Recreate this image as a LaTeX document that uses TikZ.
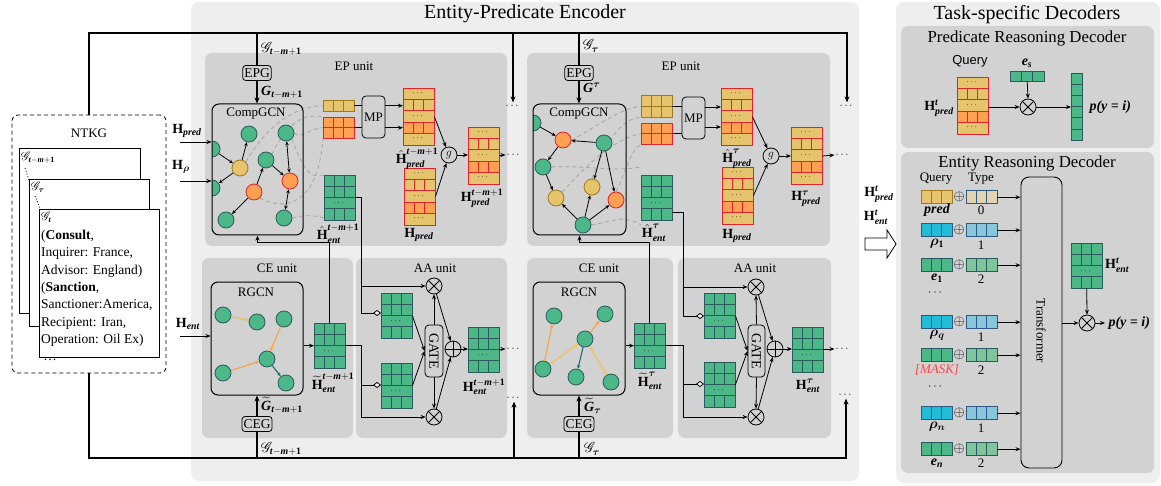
\documentclass[tikz,border=0pt]{standalone}
\usepackage{amsmath}
\usepackage{bm}
\usepackage{mathrsfs}
\usepackage{fontspec}
\setmainfont{Liberation Serif}
\newfontfamily\sansf{Liberation Sans}
\usetikzlibrary{arrows.meta,calc}

\definecolor{encbg}{HTML}{EEEEEE}
\definecolor{unitbg}{HTML}{D2D2D2}
\definecolor{gfill}{HTML}{4DB887}
\definecolor{gborder}{HTML}{2B5A5E}
\definecolor{yfill}{HTML}{E5C46D}
\definecolor{yborder}{HTML}{9E7A1A}
\definecolor{ofill}{HTML}{FFA052}
\definecolor{rborder}{HTML}{E0242C}
\definecolor{cfill}{HTML}{22BCD8}
\definecolor{bborder}{HTML}{2D5A85}
\definecolor{lbfill}{HTML}{88C6DB}
\definecolor{lgfill}{HTML}{7EC59C}
\definecolor{tanfill}{HTML}{E3D3AE}
\definecolor{dashgray}{HTML}{A9A9A9}
\definecolor{yedge}{HTML}{F2C14E}
\definecolor{oedge}{HTML}{FFA040}
\definecolor{tedge}{HTML}{1E6B6E}
\definecolor{maskred}{HTML}{FF4545}

\newcommand{\bi}[1]{\textbf{\textit{#1}}}
\newcommand{\tmo}{\bi{t}-\bi{m}+\textbf{1}}
\newcommand{\Hb}{\textbf{H}}

\pgfdeclarelayer{panels}
\pgfdeclarelayer{dashes}
\pgfsetlayers{panels,dashes,main}

\tikzset{
  ln/.style={line width=0.8pt},
  arr/.style={line width=0.8pt,-{Stealth[length=5pt,width=4pt]}},
  sarr/.style={line width=0.8pt,-{Stealth[length=4pt,width=3.5pt]}},
  sdarr/.style={line width=0.8pt,{Stealth[length=4pt,width=3.5pt]}-{Stealth[length=4pt,width=3.5pt]}},
  bus/.style={line width=1.5pt},
  busarr/.style={line width=1.5pt,-{Stealth[length=6pt,width=5pt]}},
  dia/.style={line width=0.8pt,-{Diamond[fill=white,length=8pt,width=6pt]}},
  dsh/.style={draw=dashgray,line width=0.9pt,dash pattern=on 4pt off 3pt},
  gnode/.style={circle,draw=gborder,fill=gfill,line width=0.8pt,minimum size=16pt,inner sep=0pt},
  ynode/.style={gnode,draw=yborder,fill=yfill},
  onode/.style={gnode,draw=rborder,fill=ofill},
  gbox/.style={draw,rounded corners=7pt,line width=1pt,inner sep=0pt},
  sbox/.style={draw,rounded corners=3pt,line width=0.8pt,inner xsep=1.5pt,inner ysep=0pt,minimum height=15pt,fill=unitbg,font=\fontsize{13.5}{14}\selectfont},
  otimes/.style={circle,draw,line width=0.8pt,minimum size=16pt,inner sep=0pt},
  lab/.style={font=\fontsize{14}{16}\selectfont,inner sep=1pt},
  dotn/.style={inner sep=1pt,font=\fontsize{11}{12}\selectfont},
  yarr/.style={draw=yedge,line width=1.1pt,-{Stealth[length=4pt,width=3.5pt]}},
  ydarr/.style={draw=yedge,line width=1.1pt,{Stealth[length=4pt,width=3.5pt]}-{Stealth[length=4pt,width=3.5pt]}},
  oarr/.style={draw=oedge,line width=1.1pt,-{Stealth[length=4pt,width=3.5pt]}},
  tarr/.style={draw=tedge,line width=1.1pt,-{Stealth[length=4pt,width=3.5pt]}},
}

% generic grid: name, x, y, cols, rows, cellw, cellh, fill, border
\newcommand{\CGrid}[9]{%
  \begin{scope}[shift={(#2,#3)}]
    \foreach \ci in {1,...,#4}{\foreach \cj in {1,...,#5}{%
      \filldraw[fill=#8,draw=#9,line width=0.9pt] ({(\ci-1)*#6},{(\cj-1)*#7}) rectangle ++(#6,#7);}}
    \node[inner sep=0pt,minimum width={(#4)*(#6)*1pt},minimum height={(#5)*(#7)*1pt},anchor=north west] (#1) at (0,0) {};
  \end{scope}}
% entity grid 31x45
\newcommand{\EGrid}[3]{%
  \begin{scope}[shift={(#2,#3)}]
    \fill[gfill] (0,0) rectangle (31,45);
    \draw[gborder,line width=0.9pt] (0,0) rectangle (31,45) (0,11.25)--(31,11.25) (0,22.5)--(31,22.5) (0,33.75)--(31,33.75)
      (10.33,0)--(10.33,22.5) (20.67,0)--(20.67,22.5) (10.33,33.75)--(10.33,45) (20.67,33.75)--(20.67,45);
    \node[dotn,font=\fontsize{9}{9}\selectfont] (#1dots) at (15.5,28.1) {$\cdots$};
    \node[inner sep=0pt,minimum width=31pt,minimum height=45pt,anchor=north west] (#1) at (0,0) {};
  \end{scope}}
% predicate stack 31x57
\newcommand{\PStack}[3]{%
  \begin{scope}[shift={(#2,#3)}]
    \fill[yfill] (0,0) rectangle (31,57);
    \fill[ofill] (0,34.2) rectangle (31,45.6);
    \draw[rborder,line width=0.9pt] (0,0) rectangle (31,57) (0,11.4)--(31,11.4) (0,22.8)--(31,22.8) (0,34.2)--(31,34.2) (0,45.6)--(31,45.6)
      (10.33,11.4)--(10.33,22.8) (20.67,11.4)--(20.67,22.8) (10.33,34.2)--(10.33,45.6) (20.67,34.2)--(20.67,45.6);
    \node[dotn,font=\fontsize{9}{9}\selectfont] (#1da) at (15.5,5.2) {$\cdots$};
    \node[dotn,font=\fontsize{9}{9}\selectfont] (#1db) at (15.5,28) {$\cdots$};
    \node[dotn,font=\fontsize{9}{9}\selectfont] (#1dc) at (15.5,50.8) {$\cdots$};
    \node[inner sep=0pt,minimum width=31pt,minimum height=57pt,anchor=north west] (#1) at (0,0) {};
  \end{scope}}
\newcommand{\Otimes}[2]{\node[otimes] (#1) at (#2) {};
  \draw[line width=0.8pt] (#1.north west)--(#1.south east) (#1.north east)--(#1.south west);}
\newcommand{\Oplus}[2]{\node[otimes] (#1) at (#2) {};
  \draw[line width=0.8pt] (#1.north)--(#1.south) (#1.east)--(#1.west);}

\begin{document}
\begin{tikzpicture}[x=1pt,y=-1pt,font=\fontsize{13}{15.6}\selectfont]
\useasboundingbox (0,0) rectangle (1161,486);

% ---------- backgrounds ----------
\begin{pgfonlayer}{panels}
  \fill[encbg,rounded corners=8pt] (191,2) rectangle (859,481);
  \fill[encbg,rounded corners=8pt] (896,2) rectangle (1160,483);
  \fill[unitbg,rounded corners=7pt] (205,53) rectangle (507,246);
  \fill[unitbg,rounded corners=7pt] (527,53) rectangle (830,246);
  \fill[unitbg,rounded corners=7pt] (202,258) rectangle (353,438);
  \fill[unitbg,rounded corners=7pt] (356,258) rectangle (507,438);
  \fill[unitbg,rounded corners=7pt] (527,258) rectangle (673,438);
  \fill[unitbg,rounded corners=7pt] (678,258) rectangle (831,438);
  \fill[unitbg,rounded corners=7pt] (901,26) rectangle (1154,148);
  \fill[unitbg,rounded corners=7pt] (901,152) rectangle (1154,473);
\end{pgfonlayer}
\node[font=\fontsize{20}{24}\selectfont] (enct) at (525,14) {Entity-Predicate Encoder};
\node[font=\fontsize{20}{24}\selectfont] (dect) at (1027,15) {Task-specific Decoders};
\node (ep1t) at (354,66) {EP unit};
\node (ep2t) at (681,66) {EP unit};
\node (ce1t) at (277,268) {CE unit};
\node (aa1t) at (435,268) {AA unit};
\node (ce2t) at (599,268) {CE unit};
\node (aa2t) at (755,268) {AA unit};

% ---------- NTKG ----------
\node[draw,dash pattern=on 4pt off 3pt,rounded corners=6pt,minimum width=154pt,minimum height=258pt,line width=0.8pt] (ntkg) at (89,244) {};
\node (ntkgt) at (89,133) {NTKG};
\node[draw,fill=white,line width=0.9pt,anchor=north west,minimum width=121pt,minimum height=165pt] (card1) at (19,148) {};
\node[draw,fill=white,line width=0.9pt,anchor=north west,minimum width=120pt,minimum height=147pt] (card2) at (29,179) {};
\node[draw,fill=white,line width=0.9pt,anchor=north west,minimum width=120pt,minimum height=148pt] (card3) at (39,209) {};
\node[anchor=north west,inner sep=0pt,font=\fontsize{12}{14}\selectfont] (g1l) at (21,152) {$\mathscr{G}_{\tmo}$};
\node[anchor=north west,inner sep=0pt,font=\fontsize{12}{14}\selectfont] (g2l) at (31,182) {$\mathscr{G}_{\bm{\tau}}$};
\node[anchor=north west,inner sep=0pt,font=\fontsize{12}{14}\selectfont] (g3l) at (41,212) {$\mathscr{G}_{\bi{t}}$};
\draw[dotted,line width=0.9pt] (25,168) -- (29,180);
\draw[dotted,line width=0.9pt] (35,196) -- (40,208);
\node[anchor=north west,align=left,inner sep=0pt,font=\fontsize{13.5}{17.3}\selectfont] (ntxt) at (41,230)
  {(\textbf{Consult},\\Inquirer: France,\\Advisor: England)\\(\textbf{Sanction},\\Sanctioner:America,\\Recipient: Iran,\\Operation: Oil Ex)\\\,\ldots};

% ---------- buses ----------
\coordinate (tbR) at (847,33);
\coordinate (bbR) at (846,458);
\node[dotn] (dTR) at (847,106) {$\cdots$};
\node[dotn] (dT1) at (513,106) {$\cdots$};
\node[dotn] (du1) at (514,398) {$\cdots$};
\node[dotn] (du2) at (846,395) {$\cdots$};
\draw[busarr] (ntkg.north) |- (tbR) -- (dTR.north);
\draw[busarr] (ntkg.south) |- (bbR) -- (du2.south);
\draw[busarr] (dT1.north |- tbR) -- (dT1.north);
\draw[busarr] (du1.south |- bbR) -- (du1.south);

% ================= EP unit 1 =================
\node[sbox] (epg1) at (257,73) {EPG};
\draw[bus] (epg1.north |- tbR) -- (epg1.north);
\begin{scope}
  \clip (212,104) rectangle (303,235);
  \node[gnode] (c1a) at (212,149) {};
  \node[gnode] (c1b) at (212,188) {};
\end{scope}
\node[gbox,minimum width=91pt,minimum height=131pt] (comp1) at (257.5,169.5) {};
\node (comp1t) at (256,114) {CompGCN};
\draw[busarr] (epg1.south) -- (epg1.south |- comp1.north);
\node[gnode] (c1c) at (249,134) {};
\node[gnode] (c1d) at (286,133) {};
\node[ynode] (c1y) at (240,168) {};
\node[gnode] (c1e) at (266,160) {};
\node[onode] (c1o1) at (290,181) {};
\node[onode] (c1o2) at (254,192) {};
\node[gnode] (c1f) at (226,220) {};
\node[gnode] (c1g) at (284,218) {};
\draw[sarr] (c1a) -- (c1y);
\draw[sarr] (c1y) -- (c1b);
\draw[sarr] (c1y) -- (c1c);
\draw[sarr] (c1e) -- (c1o1);
\draw[sarr] (c1o2) -- (c1e);
\draw[sarr] (c1o2) -- (c1f);
\draw[sdarr] (c1o1) -- (c1d);
\draw[sdarr] (c1o1) -- (c1g);

\CGrid{yrow1}{323}{100}{3}{1}{10.33}{11}{yfill}{yborder}
\CGrid{og1}{323}{117}{3}{2}{10.33}{10.5}{ofill}{rborder}
\node[draw,rounded corners=4pt,line width=0.8pt,minimum width=23pt,minimum height=42pt,inner sep=0pt] (mp1) at (373.5,117) {MP};
\PStack{hp1}{403}{88}
\PStack{hpr1}{404}{168}
\PStack{hpo1}{468}{127}
\EGrid{hhe1}{324}{175}
\node[circle,draw,line width=0.8pt,minimum size=16pt,inner sep=0pt] (g1) at (449,155) {$g$};
\node[dotn] (dp1) at (514,155) {$\cdots$};

\begin{pgfonlayer}{dashes}
  \draw[dsh] (c1y.north east) .. controls (262,133) and (290,106) .. (yrow1.west);
  \draw[dsh] (c1e.north east) .. controls (285,128) and (300,112) .. (og1.north west);
  \draw[dsh] (c1d.east) .. controls (300,140) and (310,128) .. (og1.west);
  \draw[dsh] (c1o2.south east) .. controls (285,212) and (318,205) .. (og1.south west);
  \draw[dsh] (c1d.south east) .. controls (302,165) and (308,180) .. (hhe1.north west);
  \draw[dsh] (c1g.east) .. controls (300,216) and (310,214) .. (hhe1.west |- c1g);
\end{pgfonlayer}

\draw[ln] (yrow1.east) -- (mp1.west |- yrow1.east);
\draw[ln] (og1.east) -- (mp1.west |- og1.east);
\draw[arr] (mp1.east |- yrow1.east) -- (hp1.west |- yrow1.east);
\draw[arr] (mp1.east |- og1.east) -- (hp1.west |- og1.east);
\draw[arr] (hp1.east) -- (g1);
\draw[arr] (hpr1.east) -- (g1);
\draw[arr] (g1) -- (hpo1.west |- g1);
\draw[arr] (hpo1.east |- g1) -- (dp1.west);

\coordinate (hpin) at (180,142);
\coordinate (hrin) at (180,181);
\draw[arr] (hpin) -- (hpin -| comp1.west);
\draw[arr] (hrin) -- (hrin -| comp1.west);
\node[lab] (lhp) at (187,131) {$\Hb_{\bi{pred}}$};
\node[lab] (lhr) at (181,167) {$\Hb_{\bm{\rho}}$};

\node[lab,anchor=west] (lg1a) at (260,49) {$\mathscr{G}_{\tmo}$};
\node[lab,anchor=west] (lg1b) at (260,92) {$\bi{G}_{\tmo}$};
\node[lab] (lhhe1) at (338,234) {$\hat{\Hb}^{\tmo}_{\bi{ent}}$};
\node[lab] (lhp1) at (417,159) {$\hat{\Hb}^{\tmo}_{\bi{pred}}$};
\node[lab] (lhpr1) at (419,235) {$\Hb_{\bi{pred}}$};
\node[lab] (lhpo1) at (482,198) {$\Hb^{\tmo}_{\bi{pred}}$};

% ================= CE unit 1 =================
\node[gbox,minimum width=92pt,minimum height=113pt] (rgcn1) at (257,338.5) {};
\node (rgcn1t) at (256,292) {RGCN};
\node[gnode] (r1a) at (223,315) {};
\node[gnode] (r1b) at (257,322) {};
\node[gnode] (r1c) at (284,319) {};
\node[gnode] (r1d) at (267,359) {};
\node[gnode] (r1e) at (223,373) {};
\node[gnode] (r1f) at (286,383) {};
\draw[yarr] (r1a) -- (r1b);
\draw[oarr] (r1c) -- (r1d);
\draw[oarr] (r1e) -- (r1d);
\draw[tarr] (r1d) -- (r1f);
\EGrid{ht1}{314}{323}
\node[sbox] (ceg1) at (257,424) {CEG};
\draw[bus] (ceg1.south |- bbR) -- (ceg1.south);
\draw[busarr] (ceg1.north) -- (ceg1.north |- rgcn1.south);
\draw[arr] (rgcn1.east |- ht1.west) -- (ht1.west);
\coordinate (hein) at (180,336);
\draw[arr] (hein) -- (hein -| rgcn1.west);
\node[lab] (lhe) at (188,324) {$\Hb_{\bi{ent}}$};
\coordinate (lp1) at (330,242);
\draw[arr] (ht1.north) -- (ht1.north |- lp1) -| (comp1.south);
\node[lab] (lht1) at (333,383) {$\widetilde{\Hb}^{\tmo}_{\bi{ent}}$};
\node[lab,anchor=west] (lgt1) at (260,405) {$\widetilde{\bi{G}}_{\tmo}$};
\node[lab,anchor=west] (lgb1) at (260,449) {$\mathscr{G}_{\tmo}$};

% ================= AA unit 1 =================
\Otimes{ot1}{434,286}
\Otimes{ob1}{434,417}
\node[draw,rounded corners=4pt,line width=0.8pt,minimum width=18pt,minimum height=52pt,inner sep=0pt] (gate1) at (434,351) {};
\node[rotate=-90,font=\fontsize{14}{15}\selectfont] (gate1t) at (gate1) {GATE};
\EGrid{tg1}{381}{293}
\EGrid{bg1}{381}{363}
\Oplus{op1}{453,349}
\EGrid{ho1}{468}{327}
\node[dotn] (de1) at (514,349) {$\cdots$};
\coordinate (a1) at (361,286);
\coordinate (a2) at (361,313);
\coordinate (a3) at (361,385);
\coordinate (a4) at (361,417);
\draw[dia] (hhe1.east) -| (a2) -- (tg1.west |- a2);
\draw[arr] (a1) -- (ot1.west);
\draw[arr] (ht1.east) -| (a4) -- (ob1.west);
\draw[dia] (a3) -- (bg1.west |- a3);
\draw[arr] (tg1.east) -- (gate1.west);
\draw[arr] (bg1.east) -- (gate1.west);
\draw[arr] (gate1.north) -- (ot1.south);
\draw[arr] (gate1.south) -- (ob1.north);
\draw[arr] (ot1) -- (op1);
\draw[arr] (ob1) -- (op1);
\draw[arr] (op1) -- (ho1.west |- op1);
\draw[arr] (ho1.east |- op1) -- (de1.west);
\node[lab] (lho1) at (484,387) {$\Hb^{\tmo}_{\bi{ent}}$};

% ================= EP unit 2 =================
\node[sbox] (epg2) at (579,73) {EPG};
\draw[bus] (epg2.north |- tbR) -- (epg2.north);
\begin{scope}
  \clip (533,104) rectangle (626,235);
  \node[gnode] (c2a) at (533,123) {};
\end{scope}
\node[gbox,minimum width=93pt,minimum height=131pt] (comp2) at (579.5,169.5) {};
\node (comp2t) at (579,114) {CompGCN};
\draw[busarr] (epg2.south) -- (epg2.south |- comp2.north);
\node[onode] (c2o1) at (563,140) {};
\node[gnode] (c2c) at (604,143) {};
\node[gnode] (c2b) at (543,167) {};
\node[ynode] (c2y1) at (592,187) {};
\node[ynode] (c2y2) at (556,198) {};
\node[onode] (c2o2) at (616,200) {};
\node[gnode] (c2g) at (583,225) {};
\draw[sarr] (c2a) -- (c2o1);
\draw[sarr] (c2c) -- (c2o1);
\draw[sarr] (c2o1) -- (c2b);
\draw[sarr] (c2b) -- (c2y2);
\draw[sarr] (c2c) -- (c2y1);
\draw[sarr] (c2c) -- (c2o2);
\draw[sarr] (c2g) -- (c2y2);
\draw[sarr] (c2g) -- (c2y1);
\draw[sarr] (c2g) -- (c2o2);

\CGrid{yg2}{641}{95}{3}{2}{10.33}{11}{yfill}{yborder}
\CGrid{og2}{641}{123}{3}{2}{10.33}{10.5}{ofill}{rborder}
\node[draw,rounded corners=4pt,line width=0.8pt,minimum width=23pt,minimum height=42pt,inner sep=0pt] (mp2) at (693.5,118) {MP};
\PStack{hp2}{721}{88}
\PStack{hpr2}{722}{167}
\PStack{hpo2}{791}{127}
\EGrid{hhe2}{641}{175}
\node[circle,draw,line width=0.8pt,minimum size=16pt,inner sep=0pt] (g2) at (771,156) {$g$};
\node[dotn] (dp2) at (843,155) {$\cdots$};

\begin{pgfonlayer}{dashes}
  \draw[dsh] (c2o1.east) .. controls (595,128) and (620,108) .. (yg2.west);
  \draw[dsh] (c2b.east) .. controls (580,165) and (615,172) .. (hhe2.west |- c2b);
  \draw[dsh] (c2y2.north east) .. controls (585,168) and (610,140) .. (og2.west);
  \draw[dsh] (c2y1.north) .. controls (600,160) and (615,118) .. (yg2.south west);
  \draw[dsh] (c2o2.north) .. controls (625,175) and (630,150) .. (og2.south west);
  \draw[dsh] (c2g.east) .. controls (610,222) and (625,214) .. (hhe2.west |- c2g);
\end{pgfonlayer}

\coordinate (m2a) at (0,107);
\coordinate (m2b) at (0,127);
\draw[ln] (yg2.east) -- (mp2.west |- yg2.east);
\draw[ln] (og2.east) -- (mp2.west |- og2.east);
\draw[arr] (mp2.east |- m2a) -- (hp2.west |- m2a);
\draw[arr] (mp2.east |- m2b) -- (hp2.west |- m2b);
\draw[arr] (hp2.east) -- (g2);
\draw[arr] (hpr2.east) -- (g2);
\draw[arr] (g2) -- (hpo2.west |- g2);
\draw[arr] (hpo2.east |- g2) -- (dp2.west);

\node[lab,anchor=west] (lg2a) at (582,46) {$\mathscr{G}_{\bm{\tau}}$};
\node[lab,anchor=west] (lg2b) at (582,88) {$\bi{G}^{\bm{\tau}}$};
\node[lab] (lhhe2) at (654,233) {$\hat{\Hb}^{\bm{\tau}}_{\bi{ent}}$};
\node[lab] (lhp2) at (737,159) {$\hat{\Hb}^{\bm{\tau}}_{\bi{pred}}$};
\node[lab] (lhpr2) at (737,236) {$\Hb_{\bi{pred}}$};
\node[lab] (lhpo2) at (806,199) {$\Hb^{\bm{\tau}}_{\bi{pred}}$};

% ================= CE unit 2 =================
\node[gbox,minimum width=92pt,minimum height=113pt] (rgcn2) at (579,338.5) {};
\node (rgcn2t) at (579,292) {RGCN};
\node[gnode] (r2a) at (554,316) {};
\node[gnode] (r2b) at (605,314) {};
\node[gnode] (r2c) at (585,339) {};
\node[gnode] (r2d) at (543,369) {};
\node[gnode] (r2e) at (576,377) {};
\node[gnode] (r2f) at (611,382) {};
\draw[oarr] (r2d) -- (r2a);
\draw[oarr] (r2c) -- (r2b);
\draw[ydarr] (r2c) -- (r2d);
\draw[tarr] (r2c) -- (r2e);
\draw[ydarr] (r2c) -- (r2f);
\EGrid{ht2}{634}{323}
\node[sbox] (ceg2) at (579,424) {CEG};
\draw[bus] (ceg2.south |- bbR) -- (ceg2.south);
\draw[busarr] (ceg2.north) -- (ceg2.north |- rgcn2.south);
\draw[arr] (rgcn2.east |- ht2.west) -- (ht2.west);
\coordinate (lp2) at (650,242);
\draw[arr] (ht2.north) -- (ht2.north |- lp2) -| (comp2.south);
\node[lab] (lht2) at (650,381) {$\widetilde{\Hb}^{\bm{\tau}}_{\bi{ent}}$};
\node[lab,anchor=west] (lgt2) at (583,406) {$\widetilde{\bi{G}}_{\bm{\tau}}$};
\node[lab,anchor=west] (lgb2) at (583,449) {$\mathscr{G}_{\bm{\tau}}$};

% ================= AA unit 2 =================
\Otimes{ot2}{756,287}
\Otimes{ob2}{756,417}
\node[draw,rounded corners=4pt,line width=0.8pt,minimum width=17pt,minimum height=52pt,inner sep=0pt] (gate2) at (756.5,351) {};
\node[rotate=-90,font=\fontsize{14}{15}\selectfont] (gate2t) at (gate2) {GATE};
\EGrid{tg2}{704}{293}
\EGrid{bg2}{704}{362}
\Oplus{op2}{775,349}
\EGrid{ho2}{792}{327}
\node[dotn] (de2) at (843,349) {$\cdots$};
\coordinate (b1) at (683,287);
\coordinate (b2) at (683,316);
\coordinate (b3) at (683,384);
\coordinate (b4) at (683,417);
\coordinate (hh2o) at (672,212);
\draw[dia] (hh2o) -| (b2) -- (tg2.west |- b2);
\draw[arr] (b1) -- (ot2.west);
\draw[arr] (ht2.east) -| (b4) -- (ob2.west);
\draw[dia] (b3) -- (bg2.west |- b3);
\draw[arr] (tg2.east) -- (gate2.west);
\draw[arr] (bg2.east) -- (gate2.west);
\draw[arr] (gate2.north) -- (ot2.south);
\draw[arr] (gate2.south) -- (ob2.north);
\draw[arr] (ot2) -- (op2);
\draw[arr] (ob2) -- (op2);
\draw[arr] (op2) -- (ho2.west |- op2);
\draw[arr] (ho2.east |- op2) -- (de2.west);
\node[lab] (lho2) at (808,386) {$\Hb^{\bm{\tau}}_{\bi{ent}}$};

% ================= Decoders =================
\draw[line width=0.8pt,fill=white] (865,238) -- (887,238) -- (887,230) -- (896,244) -- (887,258) -- (887,250) -- (865,250) -- cycle;
\node[lab] (lhpt) at (879,194) {$\Hb^{\bi{t}}_{\bi{pred}}$};
\node[lab] (lhet) at (876,217) {$\Hb^{\bi{t}}_{\bi{ent}}$};

\node[font=\fontsize{16.8}{20}\selectfont] (prdt) at (1027,38) {Predicate Reasoning Decoder};
\node[font=\sansf\fontsize{13}{15}\selectfont] (qry1) at (970,61) {Query};
\PStack{dps}{957}{77}
\node[lab,anchor=east] (ldps) at (955,108) {$\Hb^{\bi{t}}_{\bi{pred}}$};
\CGrid{es}{1010}{71}{3}{1}{11.33}{10}{gfill}{gborder}
\node[lab] (les) at (1027,63) {$\bi{e}_{\bi{s}}$};
\Otimes{dx1}{1028,107}
\CGrid{col}{1071}{73}{1}{6}{11}{11.2}{gfill}{gborder}
\draw[arr] (dps.east |- dx1) -- (dx1.west);
\draw[arr] (es.south) -- (dx1.north);
\draw[arr] (dx1.east) -- (col.west |- dx1);
\node[anchor=west,font=\fontsize{14}{16}\selectfont\bfseries\itshape] (py1) at (1086,107) {p(y = i)};

\node[font=\fontsize{16.8}{20}\selectfont] (erdt) at (1027,163) {Entity Reasoning Decoder};
\node (qry2) at (936,179) {Query};
\node (typ) at (981,179) {Type};
\node[draw,rounded corners=8pt,line width=0.9pt,minimum width=41pt,minimum height=291pt,inner sep=0pt] (trans) at (1041.5,322.5) {};
\node[rotate=-90] (transt) at (1041,331) {Transformer};

% rows
\CGrid{q1}{921}{190.5}{3}{1}{10.33}{13}{yfill}{yborder}
\CGrid{t1}{966}{190.5}{3}{1}{10.33}{13}{tanfill}{bborder}
\CGrid{q2}{921}{223.5}{3}{1}{10.33}{13}{cfill}{bborder}
\CGrid{t2}{966}{223.5}{3}{1}{10.33}{13}{lbfill}{bborder}
\CGrid{q3}{921}{258.5}{3}{1}{10.33}{13}{gfill}{gborder}
\CGrid{t3}{966}{258.5}{3}{1}{10.33}{13}{lgfill}{gborder}
\CGrid{q4}{921}{315.5}{3}{1}{10.33}{13}{cfill}{bborder}
\CGrid{t4}{966}{315.5}{3}{1}{10.33}{13}{lbfill}{bborder}
\CGrid{q5}{921}{348.5}{3}{1}{10.33}{13}{gfill}{gborder}
\CGrid{t5}{966}{348.5}{3}{1}{10.33}{13}{lgfill}{gborder}
\CGrid{q6}{921}{406.5}{3}{1}{10.33}{13}{cfill}{bborder}
\CGrid{t6}{966}{406.5}{3}{1}{10.33}{13}{lbfill}{bborder}
\CGrid{q7}{921}{442.5}{3}{1}{10.33}{13}{gfill}{gborder}
\CGrid{t7}{966}{442.5}{3}{1}{10.33}{13}{lgfill}{gborder}
\foreach \k in {1,...,7}{
  \node[inner sep=0pt,font=\fontsize{15}{16}\selectfont] (pl\k) at ($(q\k.east)!0.5!(t\k.west)$) {$\oplus$};
  \draw[arr] (t\k.east) -- (trans.west |- t\k.east);
}
\node[lab] (lq1) at (937,210) {\bi{pred}};
\node (lt1) at (981,210) {0};
\node[lab] (lq2) at (937,244) {$\bm{\rho}_{\mathbf{1}}$};
\node (lt2) at (981,245) {1};
\node[lab] (lq3) at (937,278) {$\bi{e}_{\mathbf{1}}$};
\node (lt3) at (981,279) {2};
\node (ell1) at (936,293) {$\cdots$};
\node[lab] (lq4) at (937,335) {$\bm{\rho}_{\bm{q}}$};
\node (lt4) at (981,337) {1};
\node[text=maskred,font=\fontsize{13}{15}\selectfont\itshape] (lq5) at (937,370) {[MASK]};
\node (lt5) at (981,370) {2};
\node (ell2) at (936,387) {$\cdots$};
\node[lab] (lq6) at (937,427) {$\bm{\rho}_{\bm{n}}$};
\node (lt6) at (981,428) {1};
\node[lab] (lq7) at (937,463) {$\bi{e}_{\bi{n}}$};
\node (lt7) at (981,463) {2};

\EGrid{dhe}{1071}{243}
\node[lab,anchor=west] (ldhe) at (1104,265) {$\Hb^{\bi{t}}_{\bi{ent}}$};
\Otimes{dx2}{1087,323}
\draw[arr] (dhe.south) -- (dx2.north);
\draw[arr] (trans.east |- dx2) -- (dx2.west);
\node[anchor=west,font=\fontsize{14}{16}\selectfont\bfseries\itshape] (py2) at (1105,323) {p(y = i)};
\draw[arr] (dx2.east) -- (py2.west);
\end{tikzpicture}
\end{document}
